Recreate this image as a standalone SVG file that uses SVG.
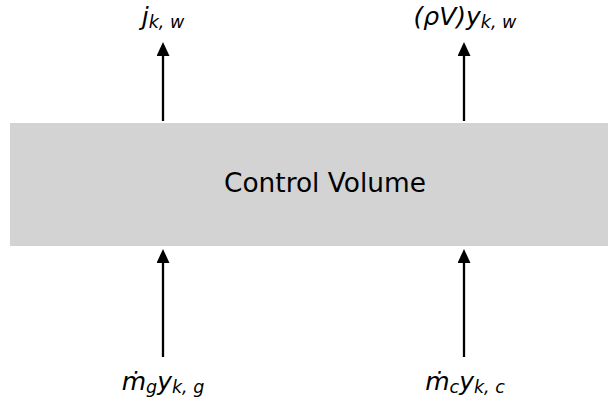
<svg xmlns="http://www.w3.org/2000/svg" width="608" height="404" viewBox="0 0 608 404">
<style>
.lbl{font-family:"DejaVu Sans",sans-serif;font-style:italic;font-size:25px;fill:#000}
.sub{font-size:17.5px}
.cv{font-family:"DejaVu Sans",sans-serif;font-size:26.4px;fill:#000}
.arr{stroke:#000;stroke-width:2.3;fill:none}
</style>
<defs>
<marker id="ah" markerWidth="14" markerHeight="13" refX="4" refY="6.5" orient="auto" markerUnits="userSpaceOnUse" viewBox="0 0 14 13">
<path d="M0,0 L14,6.5 L0,13 Z" fill="#000"/>
</marker>
</defs>
<g id="control-volume">
<rect x="10" y="123" width="598" height="123" fill="#d3d3d3"/>
<text class="cv" x="325" y="192" text-anchor="middle">Control Volume</text>
</g>
<g id="connectors">
<line class="arr" x1="163" y1="121" x2="163" y2="52" marker-end="url(#ah)"/>
<line class="arr" x1="464" y1="121" x2="464" y2="52" marker-end="url(#ah)"/>
<line class="arr" x1="163" y1="357" x2="163" y2="259" marker-end="url(#ah)"/>
<line class="arr" x1="464" y1="357" x2="464" y2="259" marker-end="url(#ah)"/>
</g>
<g id="label-jkw">
<text class="lbl" x="163" y="25" text-anchor="middle">j<tspan class="sub" dy="3">k, w</tspan></text>
</g>
<g id="label-rhoV">
<text class="lbl" x="465" y="25" text-anchor="middle">(ρV)y<tspan class="sub" dy="3">k, w</tspan></text>
</g>
<g id="label-mg">
<text class="lbl" x="163" y="390" text-anchor="middle">ṁ<tspan class="sub" dy="3">g</tspan><tspan dy="-3">y</tspan><tspan class="sub" dy="3">k, g</tspan></text>
</g>
<g id="label-mc">
<text class="lbl" x="465" y="390" text-anchor="middle">ṁ<tspan class="sub" dy="3">c</tspan><tspan dy="-3">y</tspan><tspan class="sub" dy="3">k, c</tspan></text>
</g>
</svg>
